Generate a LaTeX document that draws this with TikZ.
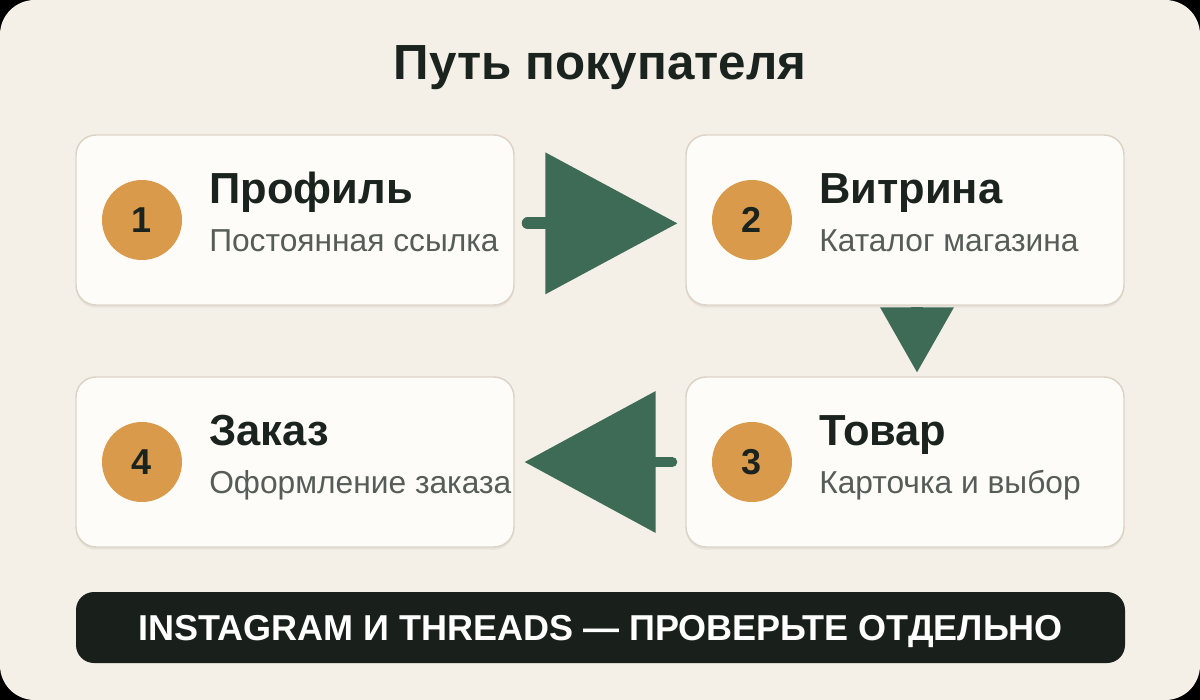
\documentclass[tikz,border=0pt]{standalone}
\usepackage{fontspec}
\setmainfont{Liberation Sans}
\usetikzlibrary{positioning,arrows.meta,shadows}
\definecolor{pagebg}{HTML}{F4F0E8}
\definecolor{cardfill}{HTML}{FDFCF8}
\definecolor{cardline}{HTML}{DCD3C6}
\definecolor{badgeorange}{HTML}{D99B4B}
\definecolor{inkdark}{HTML}{1B231E}
\definecolor{inkgray}{HTML}{565D58}
\definecolor{flowgreen}{HTML}{3E6B56}
\definecolor{bannerdark}{HTML}{19201C}

\begin{document}
\begin{tikzpicture}[x=0.75pt, y=-0.75pt,
  card/.style={draw=cardline, line width=1.1pt, fill=cardfill, rounded corners=15pt,
    minimum width=328.5pt, minimum height=127.5pt,
    drop shadow={shadow xshift=0pt, shadow yshift=-2pt, opacity=0.05, fill=black}},
  badge/.style={circle, fill=badgeorange, minimum size=60pt, inner sep=0pt,
    font=\bfseries\fontsize{27}{27}\selectfont, text=inkdark},
  steptitle/.style={anchor=base west, inner sep=0pt, text=inkdark,
    font=\bfseries\fontsize{32.6}{32.6}\selectfont},
  stepnote/.style={anchor=base west, inner sep=0pt, text=inkgray,
    font=\fontsize{23.8}{23.8}\selectfont},
  flow/.style={draw=flowgreen, line width=9pt, line cap=round}]
  \useasboundingbox (0,0) rectangle (1200,700);
  \fill[black] (0,0) rectangle (1200,700);
  \fill[pagebg, rounded corners=26pt] (0,0) rectangle (1200,700);

  % heading
  \node[anchor=base, text=inkdark, font=\bfseries\fontsize{37}{37}\selectfont] (head) at (600,79) {Путь покупателя};

  % cards
  \node[card] (p1) at (295,220) {};
  \node[card] (p2) at (905,220) {};
  \node[card] (p3) at (905,462) {};
  \node[card] (p4) at (295,462) {};

  \node[badge] (b1) at (142,220) {1};
  \node[badge] (b2) at (752,220) {2};
  \node[badge] (b3) at (752,462) {3};
  \node[badge] (b4) at (142,462) {4};

  \node[steptitle] (t1) at (209,203) {Профиль};
  \node[stepnote] (s1) at (209,251) {Постоянная ссылка};
  \node[steptitle] (t2) at (819,203) {Витрина};
  \node[stepnote] (s2) at (819,251) {Каталог магазина};
  \node[steptitle] (t3) at (819,445) {Товар};
  \node[stepnote] (s3) at (819,493) {Карточка и выбор};
  \node[steptitle] (t4) at (209,445) {Заказ};
  \node[stepnote] (s4) at (209,493) {Оформление заказа};

  % arrows
  \draw[flow, -{Triangle[length=99pt, width=106.5pt, line width=0pt]}, shorten <=9.75pt, shorten >=6pt]
    ([yshift=-2.5pt]p1.east) -- ([yshift=-2.5pt]p2.west);
  \draw[flow, line cap=butt, -{Triangle[length=48.75pt, width=55.5pt, line width=0pt]}, shorten <=2.25pt, shorten >=3pt]
    ([xshift=9pt]p2.south) -- ([xshift=9pt]p3.north);
  \draw[flow, line width=7.5pt, -{Triangle[length=98.25pt, width=106.5pt, line width=0pt]}, shorten <=9.75pt, shorten >=7.5pt]
    (p3.west) -- (p4.east);

  % banner
  \node[fill=bannerdark, rounded corners=13.5pt, minimum width=786.75pt, minimum height=53.25pt,
    text=white, text height=19.3pt, text depth=0pt, font=\bfseries\fontsize{27}{27}\selectfont] (note)
    at (600.5,627.5) {INSTAGRAM И THREADS — ПРОВЕРЬТЕ ОТДЕЛЬНО};
\end{tikzpicture}
\end{document}
